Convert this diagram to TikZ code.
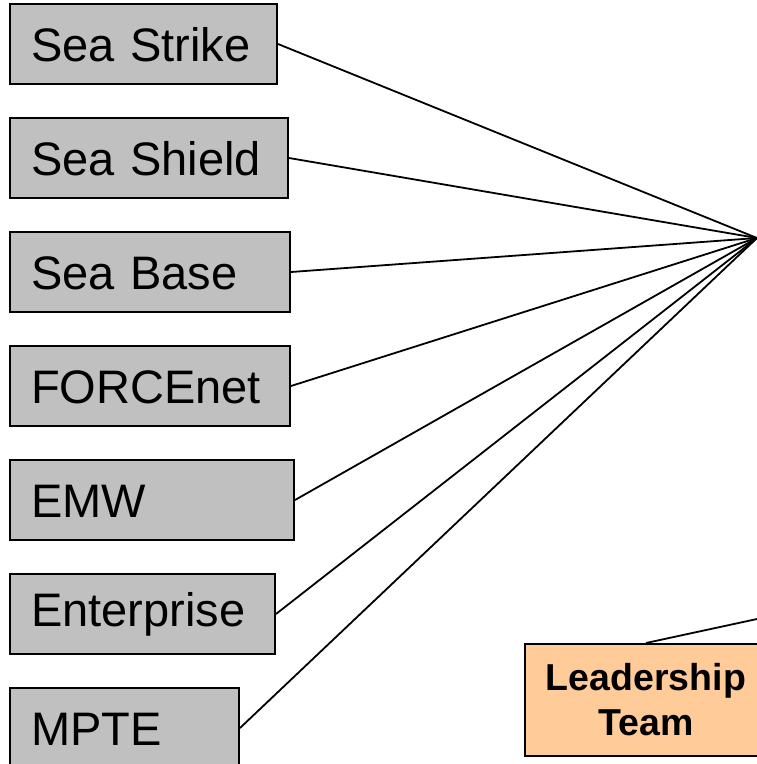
\documentclass[tikz,border=0pt]{standalone}
\usepackage{fontspec}
\setmainfont{Liberation Sans}
\definecolor{boxgray}{HTML}{C0C0C0}
\definecolor{peach}{HTML}{FFCC99}
\begin{document}
\begin{tikzpicture}[x=1pt,y=-1pt,
  graybox/.style={draw=black, fill=boxgray, line width=2pt, anchor=west,
    minimum height=80pt, inner xsep=21pt, inner ysep=0pt, align=left,
    text height=34pt, text depth=0pt,
    font=\fontsize{47}{56}\selectfont},
  leadbox/.style={draw=black, fill=peach, line width=2pt,
    minimum width=242pt, minimum height=112pt, inner sep=0pt, align=center,
    font=\fontsize{37.5}{45}\selectfont\bfseries},
  conn/.style={draw=black, line width=1.8pt}]
\useasboundingbox (0,0) rectangle (757,764);
\clip (0,0) rectangle (757,764);
\coordinate (hub) at (757,238);
\coordinate (lt) at (757,619);
\node[graybox, text width=225pt] (ss) at (9,44) {Sea Strike};
\node[graybox, text width=236pt] (sh) at (9,158) {Sea Shield};
\node[graybox, text width=238pt] (sb) at (9,272) {Sea Base};
\node[graybox, text width=238pt] (fn) at (9,386) {FORCEnet};
\node[graybox, text width=242pt] (emw) at (9,500) {EMW};
\node[graybox, text width=223pt, text depth=9pt] (ent) at (9,614) {Enterprise};
\node[graybox, text width=187pt] (mpte) at (9,728) {MPTE};
\node[leadbox] (lead) at (646,700) {Leadership\\Team};
\draw[conn] (ss.east) -- (hub);
\draw[conn] (sh.east) -- (hub);
\draw[conn] (sb.east) -- (hub);
\draw[conn] (fn.east) -- (hub);
\draw[conn] (emw.east) -- (hub);
\draw[conn] (ent.east) -- (hub);
\draw[conn] (mpte.east) -- (hub);
\draw[conn] (lead.north) -- (lt);
\end{tikzpicture}
\end{document}
